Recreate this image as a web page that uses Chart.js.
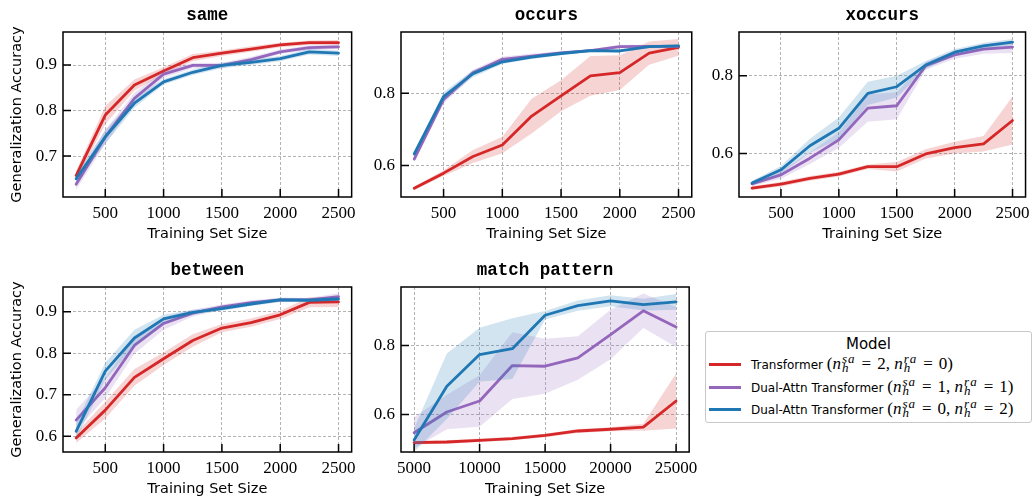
<!DOCTYPE html>
<html>
<head>
<meta charset="utf-8">
<script src="https://cdn.jsdelivr.net/npm/chart.js@4/dist/chart.umd.min.js"></script>
<style>
body{margin:0;background:#fff;width:1036px;height:497px;overflow:hidden;position:relative;}
canvas{position:absolute;}
#legend{position:absolute;left:705px;top:331px;width:325px;height:90px;border:1px solid #c8c8c8;border-radius:3px;background:#fff;}
.lt{position:absolute;left:0;width:100%;top:3px;height:20px;line-height:20px;text-align:center;font:15px "DejaVu Sans";}
.row{position:absolute;left:45px;height:20px;line-height:20px;font:12px "DejaVu Sans";white-space:nowrap;}
.sw{position:absolute;left:-42px;top:9px;width:32px;height:3px;}
.m{font:italic 17px "Liberation Serif";}
.m b{font-weight:normal;font-style:normal;}
.m .eq{margin:0 6px;}
.ss{display:inline-flex;flex-direction:column;font:italic 13px "Liberation Serif";line-height:9px;vertical-align:6px;margin-left:1px;letter-spacing:1px;}
</style>
</head>
<body>
<div id="legend">
  <div class="lt">Model</div>
  <div class="row" style="top:22px"><span class="sw" style="background:#d62728"></span>Transformer <span class="m"><b>(</b>n<span class="ss"><span>sa</span><span>h</span></span><b class="eq">=</b><b>2,</b> n<span class="ss"><span>ra</span><span>h</span></span><b class="eq">=</b><b>0)</b></span></div>
  <div class="row" style="top:44.5px"><span class="sw" style="background:#9467bd"></span>Dual-Attn Transformer <span class="m"><b>(</b>n<span class="ss"><span>sa</span><span>h</span></span><b class="eq">=</b><b>1,</b> n<span class="ss"><span>ra</span><span>h</span></span><b class="eq">=</b><b>1)</b></span></div>
  <div class="row" style="top:67px"><span class="sw" style="background:#1f77b4"></span>Dual-Attn Transformer <span class="m"><b>(</b>n<span class="ss"><span>sa</span><span>h</span></span><b class="eq">=</b><b>0,</b> n<span class="ss"><span>ra</span><span>h</span></span><b class="eq">=</b><b>2)</b></span></div>
</div>
<script>
// training set sizes
var sizes = [250,500,750,1000,1250,1500,1750,2000,2250,2500];
var sizesMatch = [5000,7500,10000,12500,15000,17500,20000,22500,25000];
var xTicks = [500,1000,1500,2000,2500];
var xTicksMatch = [5000,10000,15000,20000,25000];

// same
var sameT   = [0.657,0.790,0.856,0.887,0.916,0.926,0.935,0.944,0.949,0.949];
var sameD11 = [0.638,0.742,0.827,0.880,0.899,0.899,0.912,0.929,0.938,0.940];
var sameD02 = [0.650,0.742,0.816,0.863,0.884,0.899,0.906,0.914,0.929,0.926];
var sameErrT   = [0.010,0.020,0.012,0.008,0.008,0.006,0.006,0.005,0.005,0.006];
var sameErrD11 = [0.012,0.015,0.012,0.008,0.006,0.006,0.006,0.005,0.005,0.005];
var sameErrD02 = [0.010,0.015,0.010,0.006,0.006,0.006,0.006,0.006,0.006,0.006];

// occurs
var occursT   = [0.537,0.579,0.625,0.657,0.737,0.793,0.848,0.857,0.911,0.927];
var occursD11 = [0.618,0.783,0.857,0.894,0.903,0.912,0.918,0.929,0.930,0.930];
var occursD02 = [0.632,0.791,0.854,0.887,0.900,0.910,0.918,0.917,0.929,0.931];
var occursErrT   = [0.005,0.008,0.018,0.023,0.048,0.043,0.055,0.048,0.032,0.023];
var occursErrD11 = [0.008,0.012,0.008,0.008,0.006,0.005,0.004,0.005,0.004,0.004];
var occursErrD02 = [0.006,0.012,0.010,0.006,0.005,0.005,0.004,0.004,0.004,0.004];

// xoccurs
var xoccursT   = [0.511,0.521,0.536,0.547,0.566,0.566,0.599,0.615,0.625,0.685];
var xoccursD11 = [0.522,0.545,0.588,0.635,0.717,0.723,0.826,0.854,0.869,0.874];
var xoccursD02 = [0.524,0.558,0.620,0.665,0.755,0.772,0.828,0.861,0.877,0.887];
var xoccursErrT   = [0.005,0.006,0.006,0.006,0.006,0.012,0.012,0.015,0.020,0.062];
var xoccursErrD11 = [0.006,0.010,0.015,0.020,0.035,0.035,0.010,0.010,0.012,0.015];
var xoccursErrD02 = [0.006,0.010,0.018,0.028,0.030,0.028,0.010,0.008,0.008,0.008];

// between
var betweenT   = [0.596,0.663,0.742,0.787,0.831,0.861,0.874,0.893,0.923,0.924];
var betweenD11 = [0.639,0.717,0.819,0.872,0.897,0.912,0.922,0.929,0.929,0.937];
var betweenD02 = [0.612,0.757,0.837,0.883,0.899,0.908,0.919,0.929,0.928,0.931];
var betweenErrT   = [0.012,0.020,0.020,0.015,0.015,0.010,0.010,0.010,0.012,0.012];
var betweenErrD11 = [0.025,0.025,0.020,0.015,0.008,0.006,0.006,0.005,0.005,0.008];
var betweenErrD02 = [0.020,0.020,0.020,0.010,0.006,0.005,0.005,0.005,0.005,0.005];

// match pattern
var matchT   = [0.518,0.520,0.525,0.530,0.539,0.552,0.557,0.563,0.639];
var matchD11 = [0.547,0.607,0.639,0.742,0.740,0.764,0.832,0.901,0.854];
var matchD02 = [0.526,0.682,0.774,0.791,0.888,0.916,0.930,0.919,0.927];
var matchErrT   = [0.005,0.005,0.005,0.005,0.005,0.006,0.006,0.010,0.080];
var matchErrD11 = [0.045,0.050,0.075,0.097,0.080,0.063,0.072,0.050,0.058];
var matchErrD02 = [0.034,0.095,0.078,0.088,0.012,0.015,0.016,0.017,0.023];

var colors = ['#d62728','#9467bd','#1f77b4'];
var bands = ['rgba(214,39,40,0.2)','rgba(148,103,189,0.2)','rgba(31,119,180,0.2)'];

var panels = [
  {title:'same', left:63, top:32, w:289, padR:10, yTitle:true, x:sizes, xmin:137.5, xmax:2612.5, xt:xTicks,
   ymin:0.61, ymax:0.9725, yt:[0.7,0.8,0.9], m:[sameT,sameD11,sameD02], e:[sameErrT,sameErrD11,sameErrD02]},
  {title:'occurs', left:401, top:32, w:291, padR:10, yTitle:false, x:sizes, xmin:137.5, xmax:2612.5, xt:xTicks,
   ymin:0.513, ymax:0.9695, yt:[0.6,0.8], m:[occursT,occursD11,occursD02], e:[occursErrT,occursErrD11,occursErrD02]},
  {title:'xoccurs', left:739, top:32, w:291, padR:6, yTitle:false, x:sizes, xmin:137.5, xmax:2612.5, xt:xTicks,
   ymin:0.488, ymax:0.913, yt:[0.6,0.8], m:[xoccursT,xoccursD11,xoccursD02], e:[xoccursErrT,xoccursErrD11,xoccursErrD02]},
  {title:'between', left:63, top:287, w:289, padR:10, yTitle:true, x:sizes, xmin:137.5, xmax:2612.5, xt:xTicks,
   ymin:0.562, ymax:0.960, yt:[0.6,0.7,0.8,0.9], m:[betweenT,betweenD11,betweenD02], e:[betweenErrT,betweenErrD11,betweenErrD02]},
  {title:'match pattern', left:401, top:287, w:291, padR:12, yTitle:false, x:sizesMatch, xmin:4000, xmax:26000, xt:xTicksMatch,
   ymin:0.491, ymax:0.970, yt:[0.6,0.8], m:[matchT,matchD11,matchD02], e:[matchErrT,matchErrD11,matchErrD02]}
];

// black box and inward ticks
var frame = {
  id:'frame',
  afterDatasetsDraw: function(c){
    var a = c.chartArea, ctx = c.ctx, sx = c.scales.x, sy = c.scales.y;
    ctx.save();
    ctx.strokeStyle = '#000';
    ctx.lineWidth = 1.5;
    ctx.beginPath();
    sx.ticks.forEach(function(t){
      var px = sx.getPixelForValue(t.value);
      ctx.moveTo(px, a.bottom); ctx.lineTo(px, a.bottom - 8);
    });
    sy.ticks.forEach(function(t){
      var py = sy.getPixelForValue(t.value);
      ctx.moveTo(a.left, py); ctx.lineTo(a.left + 8, py);
    });
    ctx.stroke();
    ctx.strokeRect(a.left, a.top, a.right - a.left, a.bottom - a.top);
    ctx.restore();
  }
};

function pts(xs, ys, sign, err){
  return xs.map(function(v,i){ return {x:v, y: ys[i] + sign*(err ? err[i] : 0)}; });
}

panels.forEach(function(p){
  var cv = document.createElement('canvas');
  cv.width = 63 + p.w + p.padR;
  cv.height = 250;
  cv.style.left = (p.left - 63) + 'px';
  cv.style.top = (p.top - 32) + 'px';
  document.body.appendChild(cv);

  var datasets = [];
  p.m.forEach(function(mean, k){
    var ord = (3 - k) * 2;
    datasets.push({data:pts(p.x, mean, 1, p.e[k]), borderWidth:0, pointRadius:0, fill:false, order:ord});
    datasets.push({data:pts(p.x, mean, -1, p.e[k]), borderWidth:0, pointRadius:0, fill:'-1', backgroundColor:bands[k], order:ord});
    datasets.push({data:pts(p.x, mean, 0), borderColor:colors[k], borderWidth:2.8, pointRadius:0, fill:false,
                   borderJoinStyle:'round', borderCapStyle:'round', order:ord - 1});
  });

  var tickFont = {family:'Liberation Serif', size:17};
  var labelFont = {family:'DejaVu Sans', size:14.5};

  new Chart(cv, {
    type:'line',
    data:{datasets:datasets},
    options:{
      responsive:false,
      animation:false,
      layout:{padding:{left:0, right:p.padR, top:0, bottom:8}},
      plugins:{
        legend:{display:false},
        tooltip:{enabled:false},
        title:{display:true, text:p.title, fullSize:false, color:'#000',
               font:{family:'Liberation Mono', size:17.5, weight:'bold'}, padding:{top:5, bottom:6}}
      },
      scales:{
        x:{
          type:'linear', min:p.xmin, max:p.xmax,
          afterBuildTicks:function(s){ s.ticks = p.xt.map(function(v){ return {value:v}; }); },
          afterFit:function(s){ s.height = 45; },
          grid:{color:'#a0a0a0', lineWidth:0.8, drawTicks:false},
          border:{display:false, dash:[3,2]},
          ticks:{font:tickFont, color:'#000', padding:6, maxRotation:0, callback:function(v){ return String(v); }},
          title:{display:true, text:'Training Set Size', color:'#000', font:labelFont, padding:{top:0, bottom:-1}}
        },
        y:{
          min:p.ymin, max:p.ymax,
          afterBuildTicks:function(s){ s.ticks = p.yt.map(function(v){ return {value:v}; }); },
          afterFit:function(s){ s.width = 63; },
          grid:{color:'#a0a0a0', lineWidth:0.8, drawTicks:false},
          border:{display:false, dash:[3,2]},
          ticks:{font:tickFont, color:'#000', padding:6, callback:function(v){ return v.toFixed(1); }},
          title:{display:p.yTitle, text:'Generalization Accuracy', color:'#000', font:labelFont, padding:{top:9, bottom:0}}
        }
      }
    },
    plugins:[frame]
  });
});
</script>
</body>
</html>
